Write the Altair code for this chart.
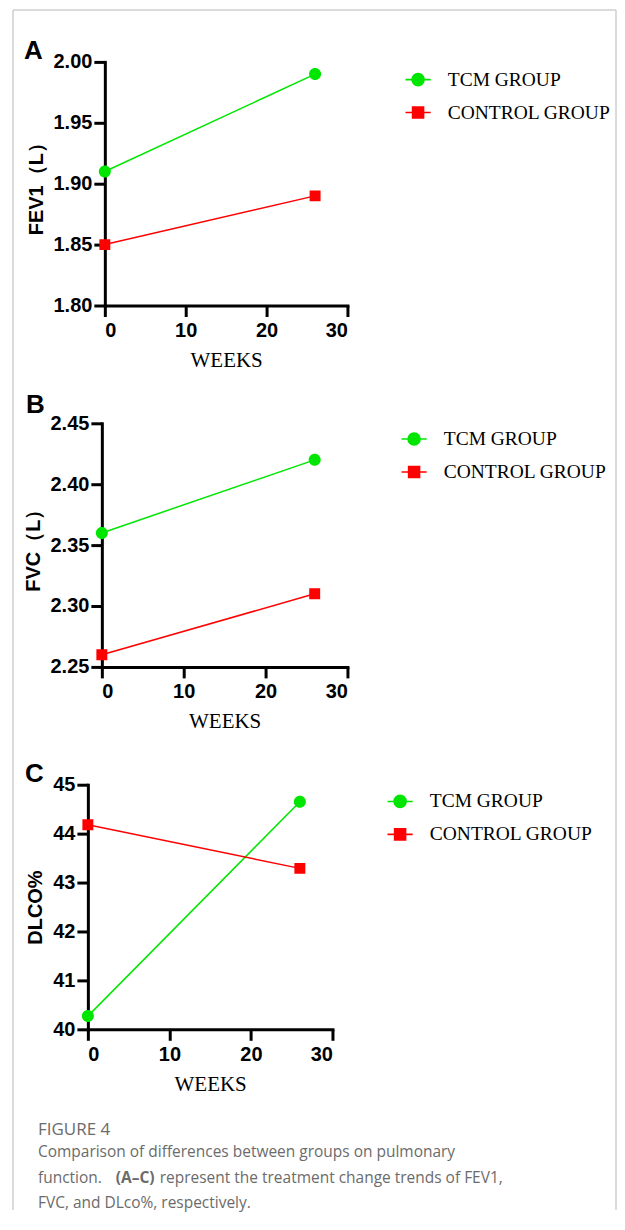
import altair as alt
import pandas as pd

# ---- data ----
weeks = [0, 26]
groups = ["TCM GROUP", "CONTROL GROUP"]
colors = ["#00e600", "#ff0000"]

fev1_tcm = [1.91, 1.99]
fev1_ctrl = [1.85, 1.89]
fvc_tcm = [2.36, 2.42]
fvc_ctrl = [2.26, 2.31]
dlco_tcm = [40.27, 44.65]
dlco_ctrl = [44.18, 43.29]

x_ticks = [0, 10, 20, 30]
fev1_ticks = [1.80, 1.85, 1.90, 1.95, 2.00]
fvc_ticks = [2.25, 2.30, 2.35, 2.40, 2.45]
dlco_ticks = [40, 41, 42, 43, 44, 45]

caption_title = "FIGURE 4"
caption_l1 = "Comparison of differences between groups on pulmonary"
caption_l2a = "function."
caption_l2b = "(A\u2013C)"
caption_l2c = "represent the treatment change trends of FEV1,"
caption_l3 = "FVC, and DLco%, respectively."

# marker paths (line stub is only visible in the legend, where a stroke is drawn)
circ_path = "M-2.3,0L2.3,0M-1.1,0A1.1,1.1,0,1,1,1.1,0A1.1,1.1,0,1,1,-1.1,0Z"
sq_path = "M-2.3,0L2.3,0M-1,-1L1,-1L1,1L-1,1Z"

one = pd.DataFrame({"k": [0]})


def make_df(tcm, ctrl):
    rows = []
    for g, vals in zip(groups, [tcm, ctrl]):
        for w, v in zip(weeks, vals):
            rows.append({"week": w, "value": v, "group": g})
    return pd.DataFrame(rows)


def panel(df, ytitle, ydom, yticks, yfmt, shift, w, h, letter, lx, ly, legx, legy):
    xenc = alt.X("week:Q", scale=alt.Scale(domain=[0, 30], nice=False, range=[shift, shift + w]),
                 axis=alt.Axis(values=x_ticks, title="WEEKS", titleFont="Liberation Serif",
                               titleFontWeight="normal", titleFontSize=21, titlePadding=9,
                               labelPadding=4))
    yenc = alt.Y("value:Q", scale=alt.Scale(domain=ydom, nice=False, zero=False),
                 axis=alt.Axis(values=yticks, format=yfmt, title=ytitle, titlePadding=7,
                               labelPadding=2, offset=-shift))
    leg = alt.Legend(title=None, orient="none", legendX=legx + shift, legendY=legy,
                     labelFont="Liberation Serif", labelFontSize=19.5, labelColor="black",
                     labelFontWeight="normal", labelLimit=0, symbolSize=120,
                     symbolStrokeWidth=1.6, rowPadding=12, labelOffset=20, symbolOpacity=1)
    lines = [
        alt.Chart(df).transform_filter(alt.datum.group == g).mark_line(
            strokeWidth=1.5, color=c).encode(x=xenc, y=yenc)
        for g, c in zip(groups, colors)
    ]
    pts = alt.Chart(df).mark_point(filled=True, size=120, opacity=1, strokeWidth=0).encode(
        x=xenc, y=yenc,
        fill=alt.Fill("group:N", scale=alt.Scale(domain=groups, range=colors), legend=leg),
        stroke=alt.Stroke("group:N", scale=alt.Scale(domain=groups, range=colors), legend=leg),
        shape=alt.Shape("group:N", scale=alt.Scale(domain=groups, range=[circ_path, sq_path]),
                        legend=leg),
    )
    lab = alt.Chart(one).mark_text(align="left", baseline="alphabetic", font="Liberation Sans",
                                   fontWeight="bold", fontSize=26, color="black").encode(
        x=alt.value(lx + shift), y=alt.value(ly), text=alt.value(letter))
    return [*lines, pts, lab], w + shift, h


la, wa, ha = panel(make_df(fev1_tcm, fev1_ctrl), "FEV1\uff08L\uff09", [1.80, 2.00], fev1_ticks, ".2f",
                   17, 243, 244, "A", -81, -3, 304, 8)
lb, wb, hb = panel(make_df(fvc_tcm, fvc_ctrl), "FVC\uff08L\uff09", [2.25, 2.45], fvc_ticks, ".2f",
                   14, 246, 244, "B", -76, -10, 303, 6)
lc, wc, hc = panel(make_df(dlco_tcm, dlco_ctrl), "DLCO%", [40, 45], dlco_ticks, "d",
                   0, 245, 245, "C", -63, -3, 303, 7)

# outer frame (drawn from panel A; coordinates relative to the common left origin)
frame_col = "#cfcfcf"
fr_left = alt.Chart(one).mark_rule(color=frame_col, strokeWidth=1.5).encode(
    x=alt.value(-75), y=alt.value(-52), y2=alt.value(1150))
fr_right = alt.Chart(one).mark_rule(color=frame_col, strokeWidth=1.5).encode(
    x=alt.value(529), y=alt.value(-52), y2=alt.value(1150))
fr_top = alt.Chart(one).mark_rule(color=frame_col, strokeWidth=1.5).encode(
    x=alt.value(-75), x2=alt.value(529), y=alt.value(-52))

# caption (drawn from panel C)
cap_col = "#6b6b6b"


def cap(txt, x, y, bold=False, size=15.5):
    return alt.Chart(one).mark_text(align="left", baseline="alphabetic", font="Open Sans",
                                    fontSize=size, fontWeight="bold" if bold else "normal",
                                    color=cap_col).encode(
        x=alt.value(x), y=alt.value(y), text=alt.value(txt))


caps = [
    cap(caption_title, -50, 351, size=17),
    cap(caption_l1, -50, 373),
    cap(caption_l2a, -50, 399),
    cap(caption_l2b, 28, 399, bold=True),
    cap(caption_l2c, 72, 399),
    cap(caption_l3, -50, 424),
]

chartA = alt.layer(*la, fr_left, fr_right, fr_top).properties(width=wa, height=ha)
chartB = alt.layer(*lb).properties(width=wb, height=hb)
chartC = alt.layer(*lc, *caps).properties(width=wc, height=hc)

chart = alt.vconcat(chartA, chartB, chartC, spacing=118, bounds="flush").resolve_scale(
    fill="independent", stroke="independent", shape="independent"
).resolve_legend(
    fill="independent", stroke="independent", shape="independent"
).properties(
    padding={"left": 4, "top": 0, "right": 0, "bottom": 0}
).configure_view(stroke=None).configure_axis(
    grid=False, domainColor="black", domainWidth=3, domainCap="square",
    tickColor="black", tickWidth=3, tickSize=11,
    labelFont="Liberation Sans", labelFontWeight="bold", labelFontSize=20, labelColor="black",
    titleFont="Liberation Sans", titleFontWeight="bold", titleFontSize=20, titleColor="black",
)

chart.save("out.html", embed_options={"renderer": "svg", "actions": False})
